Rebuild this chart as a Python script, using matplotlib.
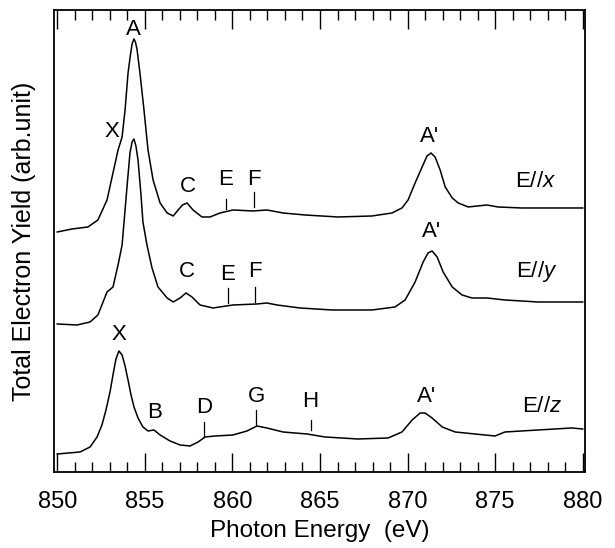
import numpy as np
import matplotlib
matplotlib.use("Agg")
import matplotlib.pyplot as plt
from matplotlib.ticker import MultipleLocator

plt.rcParams['font.family'] = ['Liberation Sans', 'DejaVu Sans']
plt.rcParams['mathtext.fontset'] = 'custom'
plt.rcParams['mathtext.rm'] = 'Liberation Sans'
plt.rcParams['mathtext.it'] = 'Liberation Sans:italic'

# E//x spectrum (photon energy in eV, yield in arb. units, already offset)
ex_energy = [850.0, 850.84, 851.75, 852.32, 852.84, 853.18, 853.47, 853.70, 853.87, 854.04,
             854.16, 854.27, 854.38, 854.46, 854.55, 854.72, 854.95, 855.18, 855.47, 855.87,
             856.27, 856.62, 856.90, 857.15, 857.41, 857.75, 858.26, 858.72, 859.29, 860.03,
             861.18, 861.97, 862.89, 864.14, 866.03, 867.97, 869.11, 869.68, 870.03, 870.43,
             870.83, 871.11, 871.34, 871.57, 871.86, 872.15, 872.55, 872.89, 873.46, 874.53,
             875.16, 876.53, 878.24, 880.0]
ex_yield = [240, 243, 245, 252, 272, 299, 322, 335, 362, 399,
            415, 428, 433, 430, 423, 399, 362, 322, 292, 269,
            259, 256, 262, 267, 269, 262, 255, 255, 259, 262,
            261, 262, 259, 257, 255, 256, 259, 264, 272, 289,
            305, 316, 319, 315, 302, 285, 274, 269, 265, 267,
            265, 264, 264, 264]

# E//y spectrum
ey_energy = [850.0, 851.13, 851.87, 852.32, 852.84, 853.18, 853.47, 853.70, 853.87, 853.98,
             854.15, 854.27, 854.38, 854.49, 854.61, 854.78, 854.89, 855.12, 855.41, 855.75,
             856.27, 856.62, 857.01, 857.35, 857.69, 858.15, 858.89, 860.03, 861.40, 861.97,
             862.54, 863.86, 865.69, 867.97, 869.28, 869.86, 870.43, 870.89, 871.17, 871.40,
             871.69, 872.03, 872.55, 873.11, 873.68, 874.53, 875.56, 877.44, 880.0]
ey_yield = [148, 147, 150, 157, 180, 185, 207, 227, 262, 285,
            319, 330, 333, 326, 312, 277, 250, 227, 204, 185,
            174, 170, 174, 179, 175, 167, 164, 167, 168, 169,
            167, 164, 162, 162, 165, 172, 190, 210, 219, 221,
            215, 200, 185, 177, 174, 174, 172, 170, 170]

# E//z spectrum
ez_energy = [850.0, 851.30, 851.87, 852.27, 852.55, 852.78, 853.01, 853.18, 853.35, 853.52,
             853.70, 853.87, 854.04, 854.21, 854.38, 854.61, 854.89, 855.18, 855.52, 855.87,
             856.44, 857.01, 857.58, 858.04, 858.44, 859.01, 860.03, 860.83, 861.40, 861.97,
             862.89, 864.26, 865.29, 867.17, 868.89, 869.68, 870.26, 870.72, 871.00, 871.40,
             871.98, 872.72, 873.85, 874.99, 875.56, 877.44, 879.38, 880.0]
ez_yield = [18, 20, 25, 35, 47, 62, 80, 97, 113, 121,
            117, 106, 92, 77, 65, 54, 45, 41, 42, 37,
            31, 27, 26, 30, 35, 36, 37, 41, 46, 44,
            40, 38, 35, 33, 34, 40, 52, 59, 59, 54,
            45, 40, 38, 36, 40, 42, 44, 43]

# peak labels: (text, energy, yield)
peak_labels = [("A", 854.33, 442), ("X", 853.13, 340), ("C", 857.47, 285),
               ("E", 859.63, 292), ("F", 861.23, 292), ("A'", 871.23, 335),
               ("C", 857.41, 200), ("E", 859.75, 197), ("F", 861.29, 200),
               ("A'", 871.34, 240),
               ("X", 853.52, 137), ("B", 855.58, 59), ("D", 858.38, 64),
               ("G", 861.35, 75), ("H", 864.43, 70), ("A'", 871.06, 75)]
# small vertical markers: (energy, y_low, y_high)
markers = [(859.63, 263, 273), (861.23, 265, 280),
           (859.75, 169, 184), (861.29, 170, 185),
           (858.38, 35, 50), (861.35, 47, 62), (864.49, 42, 52)]
pol_labels = [("E//$\\mathit{x}$", 877.3, 290), ("E//$\\mathit{y}$", 877.4, 200),
              ("E//$\\mathit{z}$", 877.7, 65)]

fig = plt.figure(figsize=(6.15, 5.48), dpi=100)
ax = fig.add_axes([0.0883, 0.1387, 0.8629, 0.8431])

for en, yy in [(ex_energy, ex_yield), (ey_energy, ey_yield), (ez_energy, ez_yield)]:
    ax.plot(en, yy, color='black', linewidth=1.1)

for txt, xx, yy in peak_labels:
    ax.text(xx, yy, txt, fontsize=16, ha='center', va='center')
for xx, y0, y1 in markers:
    ax.plot([xx, xx], [y0, y1], color='black', linewidth=0.9)
for txt, xx, yy in pol_labels:
    ax.text(xx, yy, txt, fontsize=16, ha='center', va='center')

ax.set_xlim(849.83, 880.13)
ax.set_ylim(0, 462)
ax.set_yticks([])
ax.xaxis.set_major_locator(MultipleLocator(5))
ax.xaxis.set_minor_locator(MultipleLocator(1))
ax.tick_params(axis='x', which='both', direction='in', top=True, bottom=True, width=1.0)
ax.tick_params(axis='x', which='major', length=14, labelsize=17, pad=14)
ax.tick_params(axis='x', which='minor', length=7.5)
for s in ax.spines.values():
    s.set_linewidth(1.3)

ax.set_xlabel('Photon Energy  (eV)', fontsize=17.5, labelpad=5)
ax.set_ylabel('Total Electron Yield (arb.unit)', fontsize=18, labelpad=13)

plt.savefig('out.png', dpi=100)
